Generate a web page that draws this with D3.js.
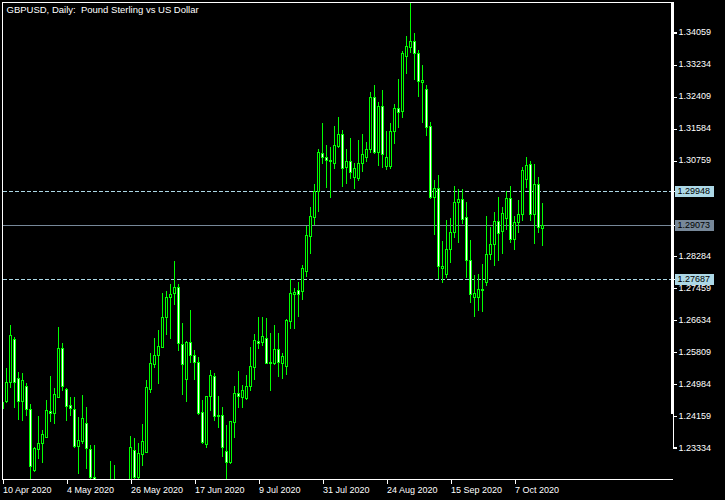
<!DOCTYPE html>
<html><head><meta charset="utf-8">
<script src="https://cdn.jsdelivr.net/npm/d3@7"></script>
<style>html,body{margin:0;padding:0;background:#000;overflow:hidden}svg{display:block}</style>
</head><body>
<script>
// ---- data (GBPUSD daily) ----
const firstDate = "2020-04-10";
const barCount = 136;
const open = [1.2434,1.2454,1.2501,1.2612,1.2512,1.2454,1.2492,1.2432,1.2275,1.2330,
1.2344,1.2361,1.2427,1.2421,1.2464,1.2589,1.2484,1.2442,1.2432,1.2338,
1.2350,1.2395,1.2328,1.2256,1.2215,1.2200,1.2110,1.2230,1.2225,1.2215,
1.2200,1.2175,1.2240,1.2326,1.2258,1.2315,1.2322,1.2485,1.2548,1.2572,
1.2593,1.2669,1.2721,1.2731,1.2746,1.2599,1.2510,1.2604,1.2572,1.2554,
1.2424,1.2341,1.2467,1.2517,1.2414,1.2417,1.2324,1.2296,1.2398,1.2473,
1.2464,1.2460,1.2492,1.2540,1.2609,1.2604,1.2615,1.2552,1.2550,1.2586,
1.2552,1.2544,1.2660,1.2729,1.2739,1.2738,1.2789,1.2879,1.2929,1.2995,
1.3092,1.3082,1.3074,1.3068,1.3112,1.3142,1.3058,1.3072,1.3030,1.3029,
1.3066,1.3082,1.3103,1.3237,1.3096,1.3214,1.3060,1.3060,1.3150,1.3210,
1.3201,1.3344,1.3366,1.3382,1.3350,1.3276,1.3257,1.3163,1.2980,1.3002,
1.2795,1.2780,1.2844,1.2888,1.2966,1.2973,1.2927,1.2817,1.2721,1.2722,
1.2741,1.2761,1.2832,1.2858,1.2917,1.2892,1.2924,1.2976,1.2870,1.2914,
1.2935,1.3025,1.3064,1.2935,1.3012,1.2900];
const high = [1.2460,1.2537,1.2649,1.2618,1.2529,1.2526,1.2499,1.2444,1.2335,1.2414,
1.2378,1.2455,1.2517,1.2487,1.2645,1.2602,1.2487,1.2464,1.2464,1.2412,
1.2468,1.2437,1.2339,1.2339,1.2240,1.2220,1.2250,1.2298,1.2288,1.2245,
1.2225,1.2245,1.2363,1.2357,1.2344,1.2394,1.2507,1.2576,1.2615,1.2636,
1.2731,1.2737,1.2755,1.2814,1.2755,1.2655,1.2609,1.2688,1.2585,1.2567,
1.2455,1.2467,1.2533,1.2526,1.2466,1.2437,1.2391,1.2401,1.2492,1.2530,
1.2494,1.2520,1.2593,1.2625,1.2670,1.2669,1.2666,1.2628,1.2649,1.2628,
1.2576,1.2665,1.2768,1.2745,1.2759,1.2804,1.2905,1.2954,1.3013,1.3103,
1.3171,1.3114,1.3109,1.3163,1.3185,1.3152,1.3103,1.3132,1.3066,1.3126,
1.3142,1.3121,1.3250,1.3268,1.3225,1.3255,1.3150,1.3171,1.3219,1.3284,
1.3356,1.3395,1.3481,1.3403,1.3359,1.3320,1.3268,1.3172,1.3023,1.3036,
1.2867,1.2920,1.2924,1.3008,1.3000,1.3000,1.2966,1.2868,1.2778,1.2781,
1.2806,1.2930,1.2901,1.2941,1.2980,1.2954,1.2996,1.3008,1.2930,1.2972,
1.3058,1.3083,1.3071,1.3065,1.3030,1.2963];
const low = [1.2425,1.2450,1.2488,1.2437,1.2406,1.2404,1.2417,1.2240,1.2273,1.2305,
1.2296,1.2359,1.2400,1.2395,1.2464,1.2481,1.2404,1.2417,1.2335,1.2266,
1.2344,1.2279,1.2255,1.2180,1.2165,1.2075,1.2100,1.2170,1.2195,1.2170,
1.2160,1.2170,1.2230,1.2245,1.2250,1.2288,1.2322,1.2477,1.2541,1.2500,
1.2593,1.2626,1.2616,1.2703,1.2585,1.2471,1.2454,1.2553,1.2510,1.2420,
1.2344,1.2335,1.2430,1.2405,1.2387,1.2312,1.2252,1.2294,1.2359,1.2437,
1.2437,1.2457,1.2481,1.2509,1.2590,1.2598,1.2550,1.2480,1.2548,1.2517,
1.2512,1.2523,1.2641,1.2642,1.2673,1.2715,1.2776,1.2836,1.2910,1.2943,
1.3068,1.3004,1.2980,1.3053,1.3109,1.3008,1.3016,1.3029,1.3002,1.3023,
1.3047,1.3072,1.3095,1.3092,1.3062,1.3058,1.3052,1.3053,1.3118,1.3161,
1.3185,1.3300,1.3354,1.3283,1.3241,1.3174,1.3139,1.2976,1.2884,1.2770,
1.2761,1.2774,1.2812,1.2875,1.2864,1.2913,1.2774,1.2709,1.2673,1.2688,
1.2686,1.2751,1.2819,1.2804,1.2817,1.2836,1.2897,1.2864,1.2844,1.2890,
1.2920,1.3004,1.2920,1.2861,1.2890,1.2856];
const close = [1.2451,1.2503,1.2623,1.2503,1.2454,1.2507,1.2431,1.2286,1.2331,1.2344,
1.2367,1.2430,1.2423,1.2470,1.2589,1.2492,1.2441,1.2434,1.2338,1.2352,
1.2408,1.2331,1.2258,1.2200,1.2200,1.2110,1.2230,1.2225,1.2215,1.2200,
1.2175,1.2240,1.2334,1.2258,1.2318,1.2350,1.2488,1.2550,1.2572,1.2595,
1.2669,1.2720,1.2728,1.2746,1.2602,1.2548,1.2604,1.2572,1.2554,1.2423,
1.2348,1.2467,1.2520,1.2414,1.2416,1.2335,1.2296,1.2401,1.2473,1.2467,
1.2481,1.2492,1.2543,1.2610,1.2603,1.2621,1.2552,1.2553,1.2586,1.2553,
1.2569,1.2662,1.2731,1.2735,1.2729,1.2795,1.2881,1.2930,1.2995,1.3095,
1.3082,1.3074,1.3072,1.3114,1.3142,1.3053,1.3072,1.3045,1.3053,1.3066,
1.3090,1.3102,1.3237,1.3096,1.3214,1.3090,1.3082,1.3150,1.3210,1.3198,
1.3352,1.3369,1.3382,1.3350,1.3279,1.3281,1.3161,1.2980,1.3002,1.2802,
1.2802,1.2844,1.2888,1.2966,1.2973,1.2922,1.2817,1.2729,1.2731,1.2741,
1.2740,1.2832,1.2857,1.2917,1.2886,1.2937,1.2976,1.2870,1.2914,1.2935,
1.3049,1.3062,1.2935,1.3012,1.2901,1.2907];
const priceTicks = [1.34059,1.33234,1.32409,1.31584,1.30759,1.28284,1.27459,1.26634,1.25809,1.24984,1.24159,1.23334];
const dateTickLabels = ["10 Apr 2020","4 May 2020","26 May 2020","17 Jun 2020","9 Jul 2020","31 Jul 2020","24 Aug 2020","15 Sep 2020","7 Oct 2020"];
const levelLines = [1.29948, 1.27687];
const bidPrice = 1.29073;
const title = "GBPUSD, Daily:  Pound Sterling vs US Dollar";

// trading-day calendar (Mon-Fri)
const fmt = d3.utcFormat("%-d %b %Y");
const dates = [];
{ let d = new Date(firstDate + "T00:00:00Z");
  while (dates.length < barCount) { const w = d.getUTCDay(); if (w !== 0 && w !== 6) dates.push(fmt(d)); d = new Date(d.getTime() + 86400000); } }
const bars = dates.map((d, i) => ({d, o: open[i], h: high[i], l: low[i], c: close[i]}));

const W = 725, H = 500;
const FONT = "Liberation Sans, Arial, sans-serif";
const svg = d3.select("body").append("svg").attr("width", W).attr("height", H)
  .style("background", "#000").attr("shape-rendering", "crispEdges");

const x = d3.scalePoint().domain(dates).range([2.5, 2.5 + 4 * (barCount - 1)]);
const y = d3.scaleLinear().domain([1.23334, 1.34059]).range([447.3, 31.7]);
const py = v => Math.round(y(v)) + 0.5;

svg.append("defs").append("clipPath").attr("id", "plot")
  .append("rect").attr("x", 3).attr("y", 3).attr("width", 669).attr("height", 476);

const plot = svg.append("g").attr("clip-path", "url(#plot)");

// level lines (behind candles)
plot.selectAll("line.lvl").data(levelLines).join("line").attr("class", "lvl")
  .attr("x1", 3).attr("x2", 672).attr("y1", py).attr("y2", py)
  .attr("stroke", "#add8e6").attr("stroke-dasharray", "4,2");
plot.append("line").attr("x1", 3).attr("x2", 672).attr("y1", py(bidPrice)).attr("y2", py(bidPrice))
  .attr("stroke", "#778899");

// candles
const cg = plot.selectAll("g.c").data(bars).join("g").attr("class", "c");
cg.append("line")
  .attr("x1", b => x(b.d)).attr("x2", b => x(b.d))
  .attr("y1", b => Math.round(y(b.h))).attr("y2", b => Math.round(y(b.l)) + 1)
  .attr("stroke", "#00ff00");
cg.append("rect")
  .attr("x", b => x(b.d) - 1).attr("width", 2)
  .attr("y", b => Math.round(y(Math.max(b.o, b.c))) + 0.5)
  .attr("height", b => Math.round(y(Math.min(b.o, b.c))) - Math.round(y(Math.max(b.o, b.c))))
  .attr("fill", b => b.c < b.o ? "#ffffff" : "#000000")
  .attr("stroke", "#00ff00");

// frame
const frame = svg.append("g").attr("stroke", "#fff").attr("fill", "none");
frame.append("line").attr("x1", 2).attr("x2", 673).attr("y1", 2.5).attr("y2", 2.5);
frame.append("line").attr("x1", 2.5).attr("x2", 2.5).attr("y1", 2).attr("y2", 480);
frame.append("line").attr("x1", 2).attr("x2", 673).attr("y1", 479.5).attr("y2", 479.5);
svg.append("rect").attr("x", 671).attr("y", 2).attr("width", 3).attr("height", 412).attr("fill", "#fff");

// price axis
const ay = svg.append("g").attr("transform", "translate(672.5,0)")
  .call(d3.axisRight(y).tickValues(priceTicks).tickSize(4).tickPadding(2).tickFormat(d3.format(".5f")));
ay.select(".domain").attr("stroke", "#fff");
ay.selectAll(".tick line").attr("stroke", "#fff").attr("transform", d => `translate(0,${py(d) - y(d)})`);
ay.selectAll("text").attr("fill", "#fff").attr("font-family", FONT).attr("font-size", 9);

// highlighted price labels
const boxes = levelLines.map(v => ({v, fill: "#add8e6"})).concat([{v: bidPrice, fill: "#778899"}]);
const bg = svg.selectAll("g.box").data(boxes).join("g").attr("class", "box");
bg.append("line").attr("x1", 672).attr("x2", 676).attr("y1", d => py(d.v)).attr("y2", d => py(d.v)).attr("stroke", "#fff");
bg.append("rect").attr("x", 675).attr("width", 39).attr("y", d => Math.round(y(d.v)) - 5).attr("height", 11).attr("fill", d => d.fill);
bg.append("text").attr("x", 677.5).attr("y", d => y(d.v) + 3.3)
  .attr("font-family", FONT).attr("font-size", 9).attr("fill", "#000")
  .text(d => d3.format(".5f")(d.v));

// date axis
const ax = svg.append("g").attr("transform", "translate(0,479.5)")
  .call(d3.axisBottom(x).tickValues(dateTickLabels).tickSize(4).tickPadding(3));
ax.select(".domain").remove();
ax.selectAll(".tick line").attr("stroke", "#fff");
ax.selectAll("text").attr("fill", "#fff").attr("text-anchor", "start").attr("x", 0)
  .attr("font-family", FONT).attr("font-size", 9);

// title
svg.append("text").attr("x", 6.5).attr("y", 13).attr("fill", "#fff")
  .attr("font-family", FONT).attr("font-size", 9.5)
  .attr("xml:space", "preserve").style("white-space", "pre").text(title);
</script>
</body></html>
